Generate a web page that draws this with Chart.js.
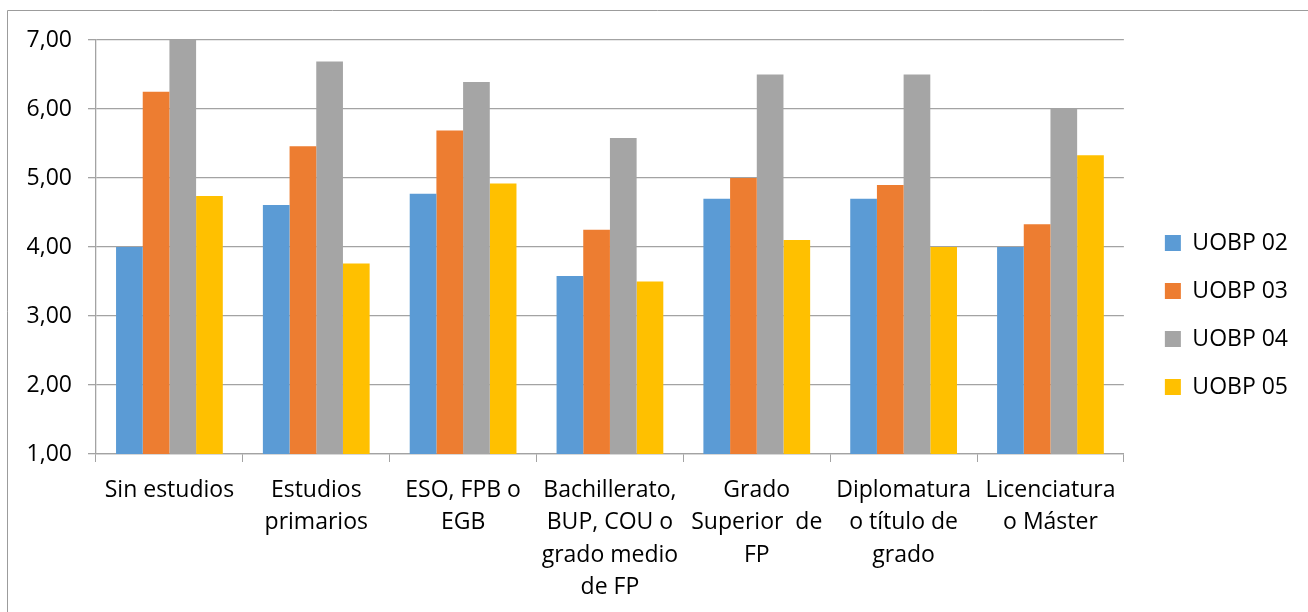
<!DOCTYPE html>
<html>
<head>
<meta charset="utf-8">
<script src="https://cdn.jsdelivr.net/npm/chart.js@4/dist/chart.umd.min.js"></script>
<style>
  html, body { margin: 0; padding: 0; background: #ffffff; }
  #wrap { width: 1308px; height: 612px; position: relative; }
</style>
</head>
<body>
<div id="wrap"><canvas id="chart"></canvas></div>
<script>
// Education levels (multi-line category labels)
const categories = [
  "Sin estudios",
  ["Estudios", "primarios"],
  ["ESO, FPB o", "EGB"],
  ["Bachillerato,", "BUP, COU o", "grado medio", "de FP"],
  ["Grado", "Superior  de", "FP"],
  ["Diplomatura", "o título de", "grado"],
  ["Licenciatura", "o Máster"]
];

const seriesNames = ["UOBP 02", "UOBP 03", "UOBP 04", "UOBP 05"];

const uobp02 = [4.00, 4.61, 4.77, 3.58, 4.70, 4.70, 4.00];
const uobp03 = [6.25, 5.46, 5.69, 4.25, 5.00, 4.90, 4.33];
const uobp04 = [7.00, 6.69, 6.39, 5.58, 6.50, 6.50, 6.00];
const uobp05 = [4.74, 3.76, 4.92, 3.50, 4.10, 4.00, 5.33];

const yTicks = [1, 2, 3, 4, 5, 6, 7];

const colors = ["#5B9BD5", "#ED7D31", "#A5A5A5", "#FFC000"];
const seriesValues = [uobp02, uobp03, uobp04, uobp05];

const FONT = "'Open Sans', 'Noto Sans', sans-serif";
const GRID = "#a3a3a3";

// Thin frame around the chart object (top and left edges)
const framePlugin = {
  id: "frame",
  beforeDraw(chart) {
    const ctx = chart.ctx;
    ctx.save();
    ctx.fillStyle = "#ffffff";
    ctx.fillRect(0, 0, chart.width, chart.height);
    ctx.strokeStyle = "#9c9c9c";
    ctx.lineWidth = 1;
    ctx.beginPath();
    ctx.moveTo(7.5, chart.height);
    ctx.lineTo(7.5, 10.5);
    ctx.lineTo(chart.width, 10.5);
    ctx.stroke();
    ctx.restore();
  }
};

// Empty spacer boxes used only to reserve room around the plot
const spacer = (position, size) => ({
  position,
  display: true,
  afterFit(scale) {
    if (position === "top") scale.height = size; else scale.width = size;
  },
  grid: { display: false },
  border: { display: false },
  ticks: { display: false }
});

new Chart(document.getElementById("chart"), {
  type: "bar",
  data: {
    labels: categories,
    datasets: seriesNames.map((name, i) => ({
      label: name,
      data: seriesValues[i],
      backgroundColor: colors[i],
      borderWidth: 0,
      barPercentage: 1.0,
      categoryPercentage: 0.727
    }))
  },
  options: {
    responsive: true,
    maintainAspectRatio: false,
    animation: false,
    layout: { padding: { left: 0, top: 26, right: 10, bottom: 8 } },
    plugins: {
      tooltip: { enabled: false },
      legend: {
        position: "right",
        align: "center",
        labels: {
          boxWidth: 16,
          boxHeight: 16,
          padding: 25,
          color: "#000000",
          font: { family: FONT, size: 23 }
        }
      }
    },
    scales: {
      x: {
        afterFit(scale) { scale.height = 150; },
        grid: {
          display: true,
          drawOnChartArea: false,
          drawTicks: true,
          tickLength: 8,
          color: GRID,
          offset: true
        },
        border: { display: true, color: GRID, width: 1.3 },
        ticks: {
          color: "#000000",
          padding: 12,
          maxRotation: 0,
          autoSkip: false,
          font: { family: FONT, size: 23, lineHeight: 1.413 }
        }
      },
      y: {
        min: 1,
        max: 7,
        afterFit(scale) { scale.width = 96; },
        afterBuildTicks(scale) { scale.ticks = yTicks.map(v => ({ value: v })); },
        grid: {
          color: GRID,
          lineWidth: 1.3,
          drawTicks: true,
          tickLength: 8
        },
        border: { display: true, color: GRID, width: 1.3 },
        ticks: {
          color: "#000000",
          padding: 16,
          font: { family: FONT, size: 23 },
          callback: v => v.toFixed(2).replace(".", ",")
        }
      },
      topSpace: Object.assign({ type: "category", axis: "x" }, spacer("top", 14)),
      rightSpace: Object.assign({ type: "linear", axis: "y" }, spacer("right", 16))
    }
  },
  plugins: [framePlugin]
});
</script>
</body>
</html>
